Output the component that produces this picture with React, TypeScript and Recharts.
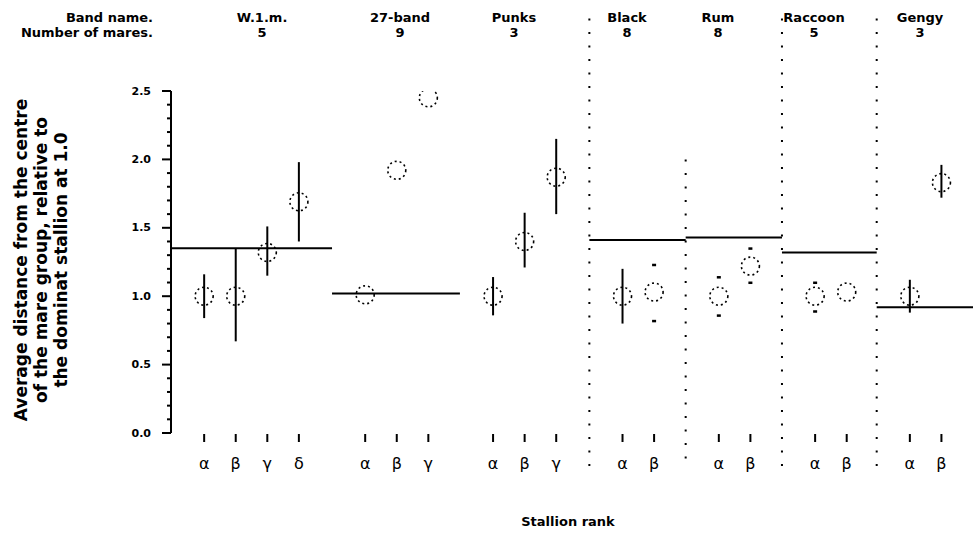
import React from "react";
import {
  ComposedChart,
  Scatter,
  ErrorBar,
  XAxis,
  YAxis,
  ReferenceLine,
} from "recharts";

// bands, left to right
const bands = ["W.1.m.", "27-band", "Punks", "Black", "Rum", "Raccoon", "Gengy"];
const mares = [5, 9, 3, 8, 8, 5, 3];
const ranks = ["α", "β", "γ", "δ"];

// band edges along the rank axis (slot units)
const bandEdges = [0, 5.1, 9.15, 13.25, 16.3, 19.35, 22.35, 25.4];

// mean distance of the band (horizontal line), null = no line
const bandMean = [1.35, 1.02, null, 1.41, 1.43, 1.32, 0.92];

// average distance per stallion, relative to dominant = 1.0
const distance = [
  [1.0, 1.0, 1.32, 1.69],
  [1.01, 1.92, 2.45],
  [1.0, 1.4, 1.87],
  [1.0, 1.03],
  [1.0, 1.22],
  [1.0, 1.03],
  [1.0, 1.83],
];

// error range (solid bars)
const barLow = [
  [0.84, 0.67, 1.15, 1.4],
  [null, null, null],
  [0.86, 1.21, 1.6],
  [0.8, null],
  [null, null],
  [null, null],
  [0.88, 1.72],
];
const barHigh = [
  [1.16, 1.35, 1.51, 1.98],
  [null, null, null],
  [1.14, 1.61, 2.15],
  [1.2, null],
  [null, null],
  [null, null],
  [1.12, 1.96],
];

// range ends shown only as marks
const endLow = [
  [null, null, null, null],
  [null, null, null],
  [null, null, null],
  [null, 0.82],
  [0.86, 1.1],
  [0.89, null],
  [null, null],
];
const endHigh = [
  [null, null, null, null],
  [null, null, null],
  [null, null, null],
  [null, 1.23],
  [1.14, 1.35],
  [1.1, null],
  [null, null],
];

// dotted separators: edge index and top value
const dividerEdges = [3, 4, 5, 6];
const dividerTop = [3.03, 2.0, 3.03, 3.03];
const dividerBottom = -0.27;

const yTicks = Array.from({ length: 26 }, (_, i) => i / 10);

type Pt = { x: number; y: number; err: [number, number]; rank: string };

const points: Pt[] = [];
const ends: { x: number; y: number }[] = [];
const rankAt: Record<string, string> = {};
distance.forEach((vals, g) => {
  vals.forEach((v, i) => {
    const x = bandEdges[g] + 1.05 + i;
    const lo = barLow[g][i];
    const hi = barHigh[g][i];
    points.push({
      x,
      y: v,
      err: [lo == null ? 0 : v - lo, hi == null ? 0 : hi - v],
      rank: ranks[i],
    });
    rankAt[x.toFixed(2)] = ranks[i];
    const el = endLow[g][i];
    const eh = endHigh[g][i];
    if (el != null) ends.push({ x, y: el });
    if (eh != null) ends.push({ x, y: eh });
  });
});
const xTicks = points.map((p) => p.x);

const FONT = "DejaVu Sans, sans-serif";

const YTick = (props: any) => {
  const { x, y, payload } = props;
  const v = payload.value as number;
  const major = Math.abs(v * 2 - Math.round(v * 2)) < 1e-6;
  return (
    <g>
      <line x1={x - (major ? 9 : 4)} x2={x} y1={y} y2={y} stroke="#000" strokeWidth={2} />
      {major && (
        <text
          x={x - 20}
          y={y}
          textAnchor="end"
          dominantBaseline="central"
          fontFamily={FONT}
          fontSize={11}
          fontWeight="bold"
          fill="#000"
        >
          {v.toFixed(1)}
        </text>
      )}
    </g>
  );
};

const XTick = (props: any) => {
  const { x, y, payload } = props;
  const label = rankAt[(payload.value as number).toFixed(2)] ?? "";
  return (
    <g>
      <line x1={x} x2={x} y1={y + 1} y2={y + 9} stroke="#000" strokeWidth={2} />
      <text
        x={x}
        y={y + 30}
        textAnchor="middle"
        dominantBaseline="central"
        fontFamily={FONT}
        fontSize={16}
        fill="#000"
      >
        {label}
      </text>
    </g>
  );
};

const Ring = (props: any) => (
  <circle
    cx={props.cx}
    cy={props.cy}
    r={9}
    fill="none"
    stroke="#000"
    strokeWidth={1.6}
    strokeDasharray="2 3"
  />
);

const EndMark = (props: any) => (
  <rect x={props.cx - 2} y={props.cy - 1} width={4} height={2.5} fill="#000" />
);

// header label centres (px)
const headerX = [262, 400, 514, 627, 718, 814, 920];

export default function App() {
  return (
    <div style={{ position: "absolute", left: 0, top: 0, background: "#fff" }}>
      <ComposedChart
        width={976}
        height={533}
        margin={{ top: 91, right: 3, bottom: 60, left: 111 }}
      >
        <XAxis
          type="number"
          dataKey="x"
          domain={[0, 25.4]}
          ticks={xTicks}
          interval={0}
          axisLine={false}
          tickLine={false}
          tickSize={0}
          tickMargin={0}
          tick={<XTick />}
          height={40}
          allowDataOverflow
        />
        <YAxis
          type="number"
          dataKey="y"
          domain={[0, 2.5]}
          ticks={yTicks}
          interval={0}
          tickLine={false}
          tickSize={0}
          tickMargin={0}
          axisLine={{ stroke: "#000", strokeWidth: 2 }}
          tick={<YTick />}
          width={60}
          allowDataOverflow
        />
        {dividerEdges.map((e, i) => (
          <ReferenceLine
            key={"d" + e}
            segment={[
              { x: bandEdges[e], y: dividerTop[i] },
              { x: bandEdges[e], y: dividerBottom },
            ]}
            stroke="#000"
            strokeWidth={2}
            strokeDasharray="2 11.5"
            ifOverflow="visible"
          />
        ))}
        {bandMean.map((m, g) =>
          m == null ? null : (
            <ReferenceLine
              key={"m" + g}
              segment={[
                { x: bandEdges[g], y: m },
                { x: bandEdges[g + 1], y: m },
              ]}
              stroke="#000"
              strokeWidth={2}
              ifOverflow="visible"
            />
          )
        )}
        <Scatter data={points} dataKey="y" shape={<Ring />} isAnimationActive={false}>
          <ErrorBar dataKey="err" direction="y" width={0} stroke="#000" strokeWidth={2} />
        </Scatter>
        <Scatter data={ends} dataKey="y" shape={<EndMark />} isAnimationActive={false} />

        <g fontFamily={FONT} fontWeight="bold" fontSize={13} fill="#000">
          <text x={153} y={17} textAnchor="end" dominantBaseline="central">
            Band name.
          </text>
          <text x={153} y={32} textAnchor="end" dominantBaseline="central">
            Number of mares.
          </text>
          {bands.map((b, i) => (
            <g key={b}>
              <text x={headerX[i]} y={17} textAnchor="middle" dominantBaseline="central">
                {b}
              </text>
              <text x={headerX[i]} y={32} textAnchor="middle" dominantBaseline="central">
                {mares[i]}
              </text>
            </g>
          ))}
          <text x={568} y={521} textAnchor="middle" dominantBaseline="central">
            Stallion rank
          </text>
        </g>
        <g
          fontFamily={FONT}
          fontWeight="bold"
          fontSize={17}
          fill="#000"
          textAnchor="middle"
        >
          {[
            "Average distance from the centre",
            "of the mare group, relative to",
            "the dominat stallion at 1.0",
          ].map((t, i) => (
            <text
              key={i}
              transform={`translate(${21 + i * 20}, 260) rotate(-90)`}
              dominantBaseline="central"
            >
              {t}
            </text>
          ))}
        </g>
      </ComposedChart>
    </div>
  );
}
